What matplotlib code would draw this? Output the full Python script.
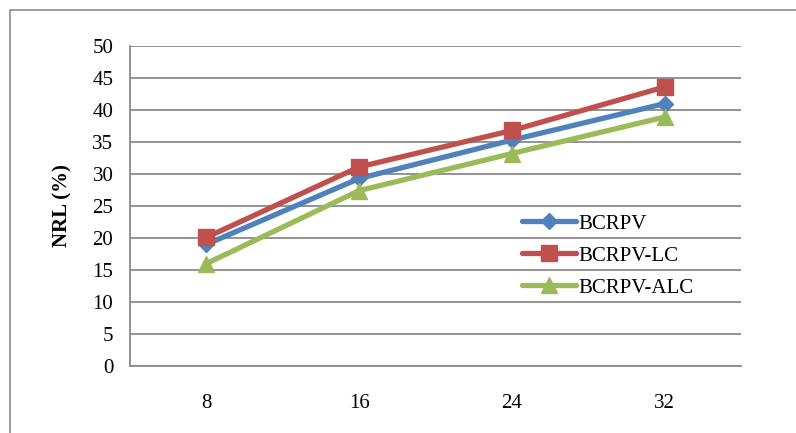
import matplotlib
matplotlib.use("Agg")
import matplotlib.pyplot as plt
from matplotlib.patches import Rectangle

# NRL versus number of nodes for the three schemes
categories = ["8", "16", "24", "32"]
bcrpv = [19.0, 29.3, 35.3, 41.0]
bcrpv_lc = [20.1, 31.1, 36.8, 43.6]
bcrpv_alc = [16.0, 27.4, 33.2, 38.9]

plt.rcParams["font.family"] = ["Liberation Serif", "DejaVu Serif"]

fig = plt.figure(figsize=(7.96, 4.33), dpi=100)
fig.patches.append(Rectangle((10 / 796, -0.05), 1.2, 1.05 - 10 / 433, transform=fig.transFigure,
                             fill=False, edgecolor="#8c8c8c", linewidth=1.2))

ax = fig.add_axes([130 / 796, 1 - 366 / 433, 611 / 796, 320 / 433])
x = range(len(categories))

series = [
    (bcrpv, "BCRPV", "#4F81BD", "D", 15),
    (bcrpv_lc, "BCRPV-LC", "#C0504D", "s", 20),
    (bcrpv_alc, "BCRPV-ALC", "#9BBB59", "^", 21),
]
for vals, name, color, marker, ms in series:
    ax.plot(x, vals, color=color, linewidth=3.8, marker=marker, markersize=ms,
            label=name, solid_capstyle="round")

ax.set_xlim(-0.5, 3.5)
ax.set_ylim(0, 50)
ax.set_yticks(range(0, 51, 5))
ax.set_xticks(list(x))
ax.set_xticklabels(categories)
ax.tick_params(axis="both", length=0, labelsize=15, colors="black")
ax.tick_params(axis="x", pad=20)
ax.tick_params(axis="y", pad=12)
ax.yaxis.grid(True, color="#8a8a8a", linewidth=1.3)
ax.set_axisbelow(True)
for side in ["top", "right"]:
    ax.spines[side].set_visible(False)
ax.spines["left"].set_color("#8a8a8a")
ax.spines["bottom"].set_color("#8a8a8a")
ax.spines["left"].set_linewidth(1.3)
ax.spines["bottom"].set_linewidth(1.3)

ax.set_ylabel("NRL (%)", fontsize=15, fontweight="bold", labelpad=14)

handles, labels = ax.get_legend_handles_labels()
for h in handles:
    h.set_markersize(h.get_markersize() * 0.55)
fig.legend(handles, labels, loc="upper left", bbox_to_anchor=(522 / 796, 1 - 214 / 433),
           frameon=False, fontsize=15, handlelength=2.6, handletextpad=0.1,
           labelspacing=0.6, borderpad=0, borderaxespad=0)

fig.savefig("out.png", dpi=100)
